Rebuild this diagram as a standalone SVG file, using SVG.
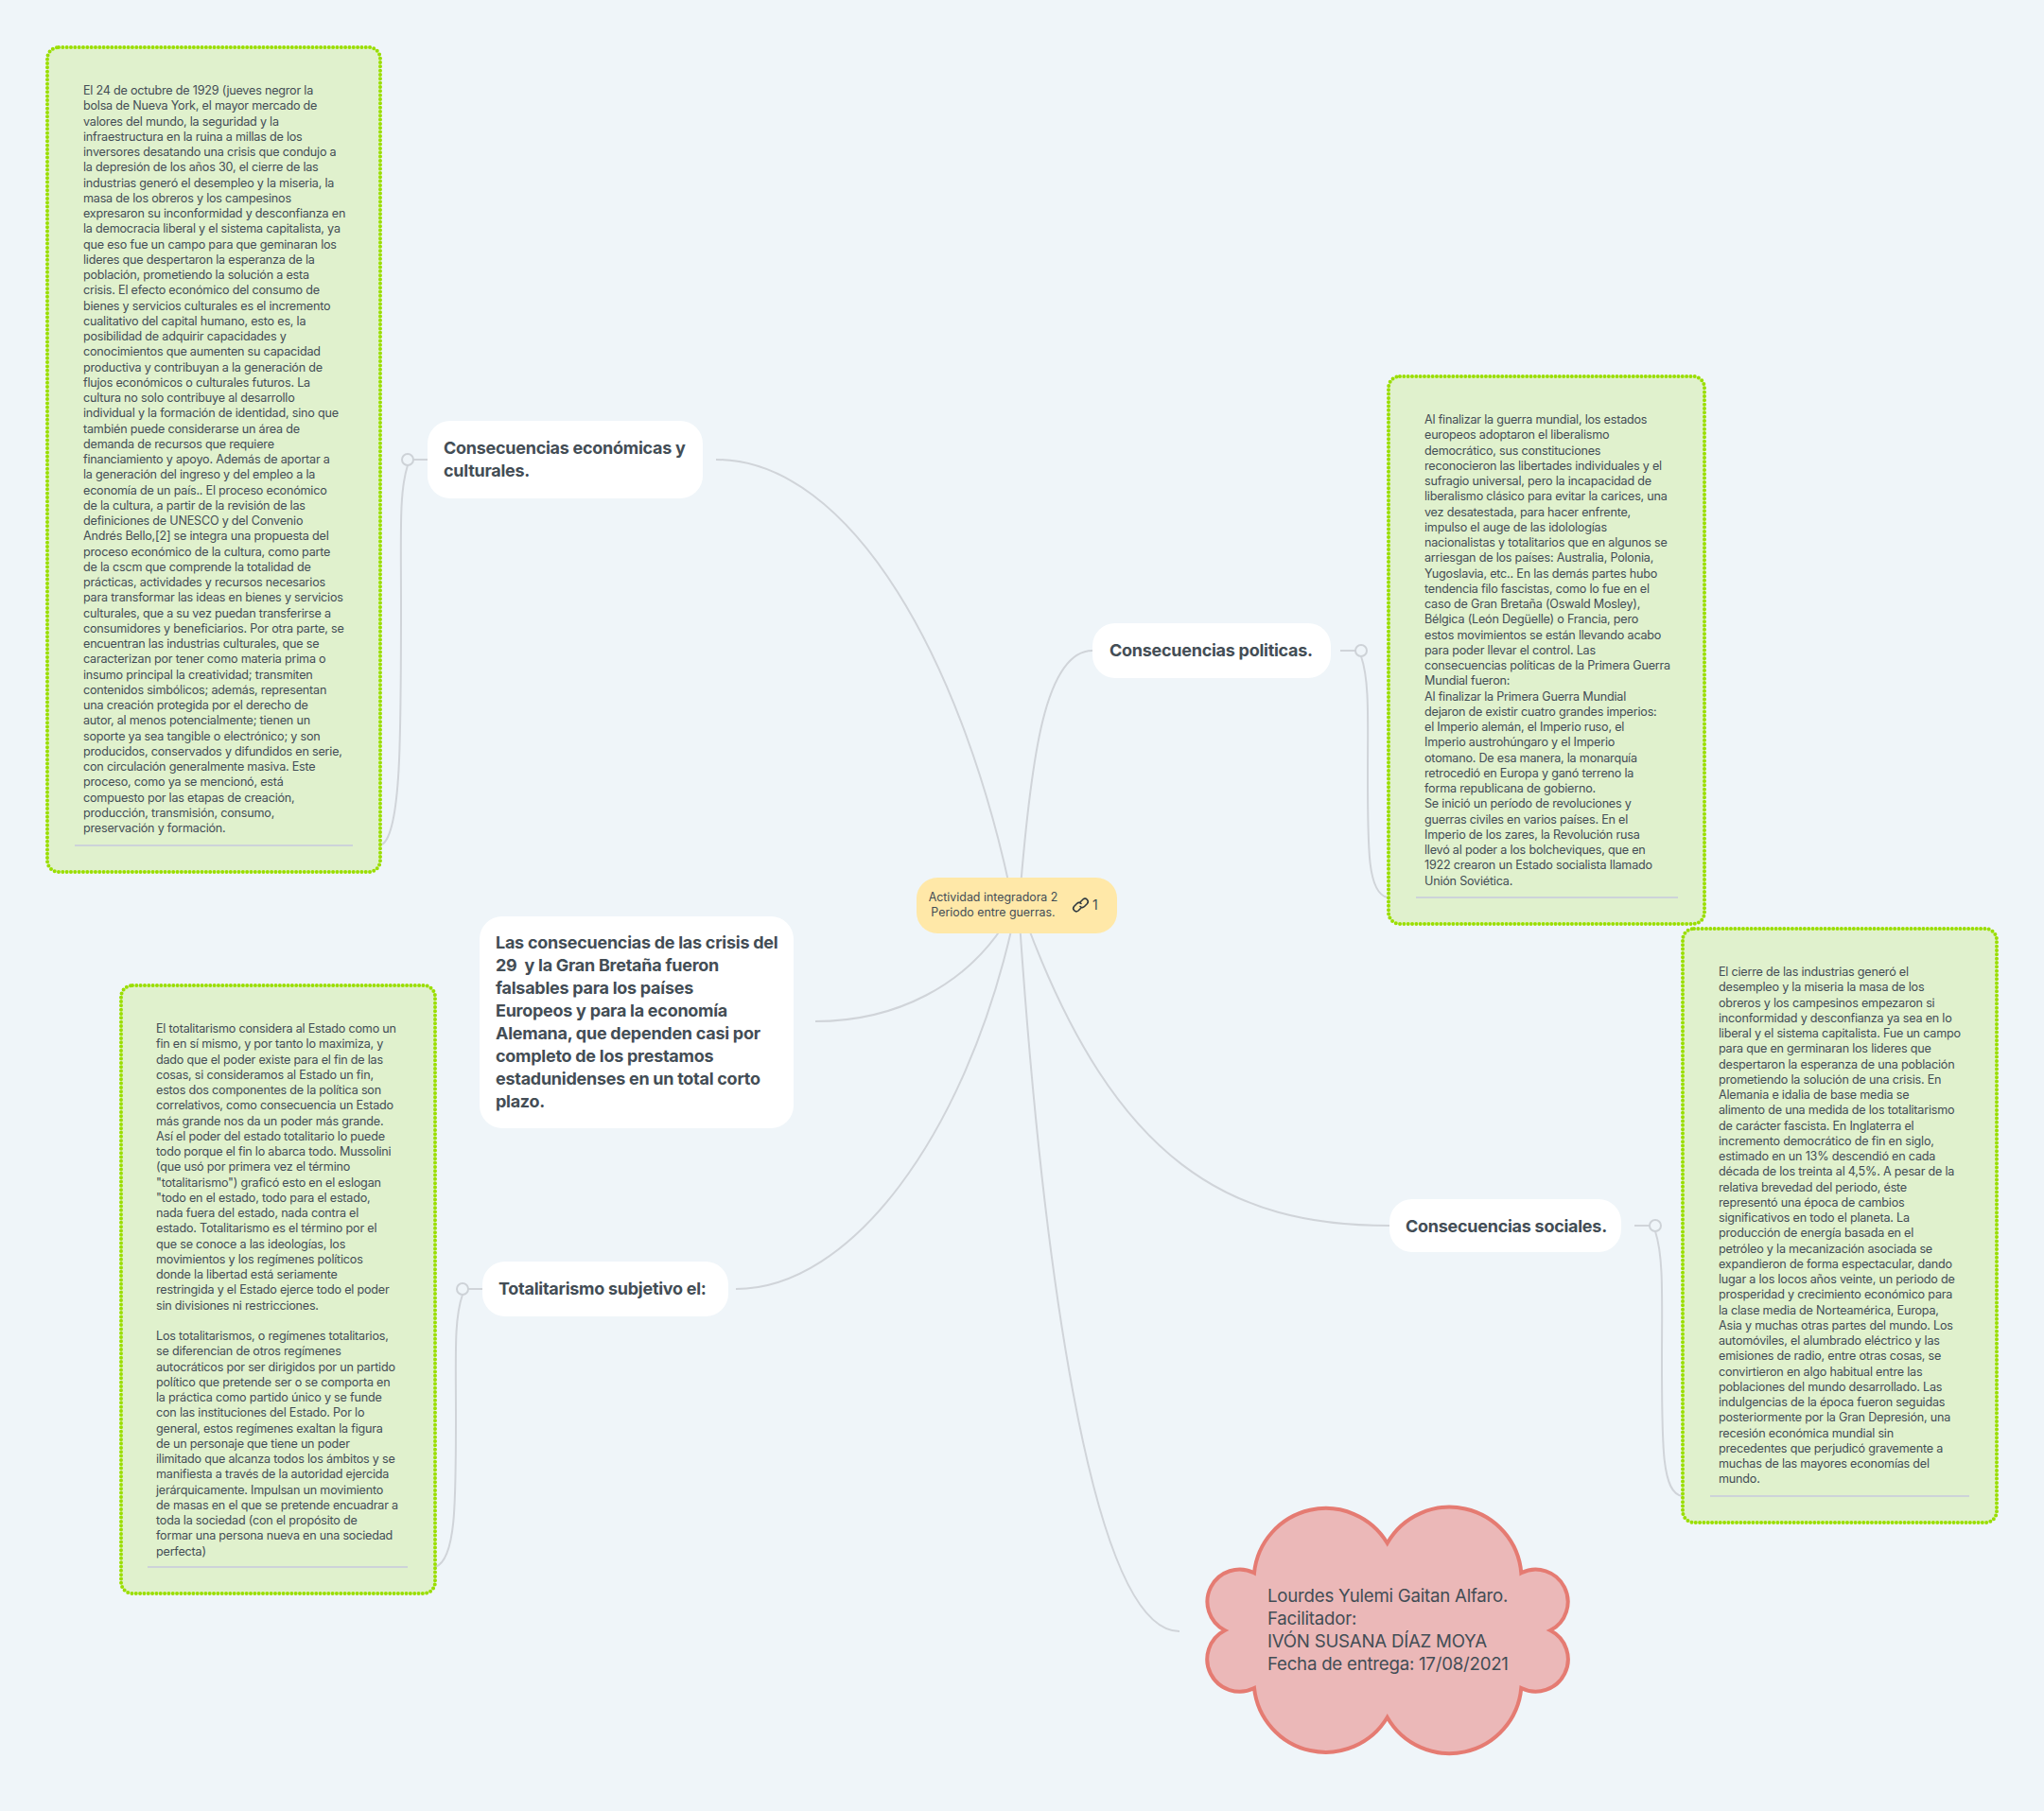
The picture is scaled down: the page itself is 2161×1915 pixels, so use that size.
<svg xmlns="http://www.w3.org/2000/svg" width="2161" height="1915" viewBox="0 0 2161 1915">
<style>
text{font-family:"Inter","Noto Sans","Liberation Sans",sans-serif;fill:#434d55}
.b{font-size:12.6px;letter-spacing:-.21px}
.t{font-size:18px;font-weight:700;letter-spacing:-.27px}
.box{fill:#e0f1cd;stroke:#9ade00;stroke-width:4;stroke-linecap:round;stroke-dasharray:0 4.33}
.sep{stroke:#cdd3d9;stroke-width:2;fill:none}
.con{stroke:#d0d4d9;stroke-width:2;fill:none}
.node{fill:#fff}
.h{fill:#eff5f9;stroke:#cdd2d7;stroke-width:2}
</style>
<rect width="2161" height="1915" fill="#eff5f9"/>
<g id="connectors">
<path class="con" d="M757 486C900 486 1020 700 1072 960"/>
<path class="con" d="M1155 688C1105 688 1090 800 1078 950"/>
<path class="con" d="M1469 1296C1300 1296 1180 1230 1085 975"/>
<path class="con" d="M862 1080C950 1080 1020 1040 1060 980"/>
<path class="con" d="M778 1363C900 1363 1020 1200 1070 980"/>
<path class="con" d="M1247 1725C1150 1725 1100 1300 1078 975"/>
<path class="con" d="M437 486H452M431 492C422 520 424 560 424 640C424 780 424 880 404 893"/>
<path class="con" d="M1417 688H1433M1439 694C1448 720 1446 760 1446 820C1446 900 1446 945 1467 949"/>
<path class="con" d="M1728 1296H1744M1750 1302C1759 1330 1757 1370 1757 1440C1757 1530 1757 1580 1779 1582"/>
<path class="con" d="M495 1363H510M489 1369C480 1395 482 1430 482 1500C482 1590 482 1650 460 1657"/>
</g>
<g id="root">
<rect x="969" y="928" width="212" height="59" rx="22" fill="#ffe8a8"/>
<text font-size="12.400" text-anchor="middle"><tspan x="1050" y="953">Actividad integradora 2</tspan><tspan x="1050" y="969">Periodo entre guerras.</tspan></text>
<g fill="none" stroke="#2f3940" stroke-width="1.6" stroke-linecap="round"><path d="M1142 954l3-3a3.2 3.2 0 0 1 4.500 4.500l-3 3a3.200 3.200 0 0 1-4.500 0"/><path d="M1143 960l-3 3a3.200 3.200 0 0 1-4.500-4.500l3-3a3.200 3.200 0 0 1 4.500 0"/></g>
<text x="1155" y="962" font-size="14">1</text>
</g>
<g id="econ">
<rect class="node" x="452" y="445" width="291" height="82" rx="24"/>
<circle class="h" cx="431" cy="486" r="6"/>
<text class="t"><tspan x="469" y="480">Consecuencias económicas y</tspan><tspan x="469" y="504">culturales.</tspan></text>
</g>
<g id="econ-note">
<rect class="box" x="50" y="50" width="352" height="872" rx="12"/>
<line class="sep" x1="79" y1="894" x2="373" y2="894"/>
<text class="b"><tspan x="88" y="100">El 24 de octubre de 1929 (jueves negror la</tspan><tspan x="88" dy="16.25">bolsa de Nueva York, el mayor mercado de</tspan><tspan x="88" dy="16.25">valores del mundo, la seguridad y la</tspan><tspan x="88" dy="16.25">infraestructura en la ruina a millas de los</tspan><tspan x="88" dy="16.25">inversores desatando una crisis que condujo a</tspan><tspan x="88" dy="16.25">la depresión de los años 30, el cierre de las</tspan><tspan x="88" dy="16.25">industrias generó el desempleo y la miseria, la</tspan><tspan x="88" dy="16.25">masa de los obreros y los campesinos</tspan><tspan x="88" dy="16.25">expresaron su inconformidad y desconfianza en</tspan><tspan x="88" dy="16.25">la democracia liberal y el sistema capitalista, ya</tspan><tspan x="88" dy="16.25">que eso fue un campo para que geminaran los</tspan><tspan x="88" dy="16.25">lideres que despertaron la esperanza de la</tspan><tspan x="88" dy="16.25">población, prometiendo la solución a esta</tspan><tspan x="88" dy="16.25">crisis. El efecto económico del consumo de</tspan><tspan x="88" dy="16.25">bienes y servicios culturales es el incremento</tspan><tspan x="88" dy="16.25">cualitativo del capital humano, esto es, la</tspan><tspan x="88" dy="16.25">posibilidad de adquirir capacidades y</tspan><tspan x="88" dy="16.25">conocimientos que aumenten su capacidad</tspan><tspan x="88" dy="16.25">productiva y contribuyan a la generación de</tspan><tspan x="88" dy="16.25">flujos económicos o culturales futuros. La</tspan><tspan x="88" dy="16.25">cultura no solo contribuye al desarrollo</tspan><tspan x="88" dy="16.25">individual y la formación de identidad, sino que</tspan><tspan x="88" dy="16.25">también puede considerarse un área de</tspan><tspan x="88" dy="16.25">demanda de recursos que requiere</tspan><tspan x="88" dy="16.25">financiamiento y apoyo. Además de aportar a</tspan><tspan x="88" dy="16.25">la generación del ingreso y del empleo a la</tspan><tspan x="88" dy="16.25">economía de un país.. El proceso económico</tspan><tspan x="88" dy="16.25">de la cultura, a partir de la revisión de las</tspan><tspan x="88" dy="16.25">definiciones de UNESCO y del Convenio</tspan><tspan x="88" dy="16.25">Andrés Bello,[2] se integra una propuesta del</tspan><tspan x="88" dy="16.25">proceso económico de la cultura, como parte</tspan><tspan x="88" dy="16.25">de la cscm que comprende la totalidad de</tspan><tspan x="88" dy="16.25">prácticas, actividades y recursos necesarios</tspan><tspan x="88" dy="16.25">para transformar las ideas en bienes y servicios</tspan><tspan x="88" dy="16.25">culturales, que a su vez puedan transferirse a</tspan><tspan x="88" dy="16.25">consumidores y beneficiarios. Por otra parte, se</tspan><tspan x="88" dy="16.25">encuentran las industrias culturales, que se</tspan><tspan x="88" dy="16.25">caracterizan por tener como materia prima o</tspan><tspan x="88" dy="16.25">insumo principal la creatividad; transmiten</tspan><tspan x="88" dy="16.25">contenidos simbólicos; además, representan</tspan><tspan x="88" dy="16.25">una creación protegida por el derecho de</tspan><tspan x="88" dy="16.25">autor, al menos potencialmente; tienen un</tspan><tspan x="88" dy="16.25">soporte ya sea tangible o electrónico; y son</tspan><tspan x="88" dy="16.25">producidos, conservados y difundidos en serie,</tspan><tspan x="88" dy="16.25">con circulación generalmente masiva. Este</tspan><tspan x="88" dy="16.25">proceso, como ya se mencionó, está</tspan><tspan x="88" dy="16.25">compuesto por las etapas de creación,</tspan><tspan x="88" dy="16.25">producción, transmisión, consumo,</tspan><tspan x="88" dy="16.25">preservación y formación.</tspan></text>
</g>
<g id="politicas">
<rect class="node" x="1155" y="659" width="252" height="58" rx="24"/>
<circle class="h" cx="1439" cy="688" r="6"/>
<text class="t" x="1173" y="694">Consecuencias politicas.</text>
</g>
<g id="politicas-note">
<rect class="box" x="1468" y="398" width="334" height="579" rx="12"/>
<line class="sep" x1="1497" y1="949" x2="1774" y2="949"/>
<text class="b"><tspan x="1506" y="448">Al finalizar la guerra mundial, los estados</tspan><tspan x="1506" dy="16.25">europeos adoptaron el liberalismo</tspan><tspan x="1506" dy="16.25">democrático, sus constituciones</tspan><tspan x="1506" dy="16.25">reconocieron las libertades individuales y el</tspan><tspan x="1506" dy="16.25">sufragio universal, pero la incapacidad de</tspan><tspan x="1506" dy="16.25">liberalismo clásico para evitar la carices, una</tspan><tspan x="1506" dy="16.25">vez desatestada, para hacer enfrente,</tspan><tspan x="1506" dy="16.25">impulso el auge de las idolologías</tspan><tspan x="1506" dy="16.25">nacionalistas y totalitarios que en algunos se</tspan><tspan x="1506" dy="16.25">arriesgan de los países: Australia, Polonia,</tspan><tspan x="1506" dy="16.25">Yugoslavia, etc.. En las demás partes hubo</tspan><tspan x="1506" dy="16.25">tendencia filo fascistas, como lo fue en el</tspan><tspan x="1506" dy="16.25">caso de Gran Bretaña (Oswald Mosley),</tspan><tspan x="1506" dy="16.25">Bélgica (León Degüelle) o Francia, pero</tspan><tspan x="1506" dy="16.25">estos movimientos se están llevando acabo</tspan><tspan x="1506" dy="16.25">para poder llevar el control. Las</tspan><tspan x="1506" dy="16.25">consecuencias políticas de la Primera Guerra</tspan><tspan x="1506" dy="16.25">Mundial fueron:</tspan><tspan x="1506" dy="16.25">Al finalizar la Primera Guerra Mundial</tspan><tspan x="1506" dy="16.25">dejaron de existir cuatro grandes imperios:</tspan><tspan x="1506" dy="16.25">el Imperio alemán, el Imperio ruso, el</tspan><tspan x="1506" dy="16.25">Imperio austrohúngaro y el Imperio</tspan><tspan x="1506" dy="16.25">otomano. De esa manera, la monarquía</tspan><tspan x="1506" dy="16.25">retrocedió en Europa y ganó terreno la</tspan><tspan x="1506" dy="16.25">forma republicana de gobierno.</tspan><tspan x="1506" dy="16.25">Se inició un período de revoluciones y</tspan><tspan x="1506" dy="16.25">guerras civiles en varios países. En el</tspan><tspan x="1506" dy="16.25">Imperio de los zares, la Revolución rusa</tspan><tspan x="1506" dy="16.25">llevó al poder a los bolcheviques, que en</tspan><tspan x="1506" dy="16.25">1922 crearon un Estado socialista llamado</tspan><tspan x="1506" dy="16.25">Unión Soviética.</tspan></text>
</g>
<g id="sociales">
<rect class="node" x="1469" y="1268" width="245" height="56" rx="24"/>
<circle class="h" cx="1750" cy="1296" r="6"/>
<text class="t" x="1486" y="1303">Consecuencias sociales.</text>
</g>
<g id="sociales-note">
<rect class="box" x="1779" y="982" width="332" height="628" rx="12"/>
<line class="sep" x1="1808" y1="1582" x2="2082" y2="1582"/>
<text class="b"><tspan x="1817" y="1032">El cierre de las industrias generó el</tspan><tspan x="1817" dy="16.25">desempleo y la miseria la masa de los</tspan><tspan x="1817" dy="16.25">obreros y los campesinos empezaron si</tspan><tspan x="1817" dy="16.25">inconformidad y desconfianza ya sea en lo</tspan><tspan x="1817" dy="16.25">liberal y el sistema capitalista. Fue un campo</tspan><tspan x="1817" dy="16.25">para que en germinaran los lideres que</tspan><tspan x="1817" dy="16.25">despertaron la esperanza de una población</tspan><tspan x="1817" dy="16.25">prometiendo la solución de una crisis. En</tspan><tspan x="1817" dy="16.25">Alemania e idalia de base media se</tspan><tspan x="1817" dy="16.25">alimento de una medida de los totalitarismo</tspan><tspan x="1817" dy="16.25">de carácter fascista. En Inglaterra el</tspan><tspan x="1817" dy="16.25">incremento democrático de fin en siglo,</tspan><tspan x="1817" dy="16.25">estimado en un 13% descendió en cada</tspan><tspan x="1817" dy="16.25">década de los treinta al 4,5%. A pesar de la</tspan><tspan x="1817" dy="16.25">relativa brevedad del periodo, éste</tspan><tspan x="1817" dy="16.25">representó una época de cambios</tspan><tspan x="1817" dy="16.25">significativos en todo el planeta. La</tspan><tspan x="1817" dy="16.25">producción de energía basada en el</tspan><tspan x="1817" dy="16.25">petróleo y la mecanización asociada se</tspan><tspan x="1817" dy="16.25">expandieron de forma espectacular, dando</tspan><tspan x="1817" dy="16.25">lugar a los locos años veinte, un periodo de</tspan><tspan x="1817" dy="16.25">prosperidad y crecimiento económico para</tspan><tspan x="1817" dy="16.25">la clase media de Norteamérica, Europa,</tspan><tspan x="1817" dy="16.25">Asia y muchas otras partes del mundo. Los</tspan><tspan x="1817" dy="16.25">automóviles, el alumbrado eléctrico y las</tspan><tspan x="1817" dy="16.25">emisiones de radio, entre otras cosas, se</tspan><tspan x="1817" dy="16.25">convirtieron en algo habitual entre las</tspan><tspan x="1817" dy="16.25">poblaciones del mundo desarrollado. Las</tspan><tspan x="1817" dy="16.25">indulgencias de la época fueron seguidas</tspan><tspan x="1817" dy="16.25">posteriormente por la Gran Depresión, una</tspan><tspan x="1817" dy="16.25">recesión económica mundial sin</tspan><tspan x="1817" dy="16.25">precedentes que perjudicó gravemente a</tspan><tspan x="1817" dy="16.25">muchas de las mayores economías del</tspan><tspan x="1817" dy="16.25">mundo.</tspan></text>
</g>
<g id="crisis">
<rect class="node" x="507" y="969" width="332" height="224" rx="24"/>
<text class="t"><tspan x="524" y="1003">Las consecuencias de las crisis del</tspan><tspan x="524" y="1027" xml:space="preserve">29  y la Gran Bretaña fueron</tspan><tspan x="524" y="1051">falsables para los países</tspan><tspan x="524" y="1075">Europeos y para la economía</tspan><tspan x="524" y="1099">Alemana, que dependen casi por</tspan><tspan x="524" y="1123">completo de los prestamos</tspan><tspan x="524" y="1147">estadunidenses en un total corto</tspan><tspan x="524" y="1171">plazo.</tspan></text>
</g>
<g id="totalitarismo">
<rect class="node" x="510" y="1334" width="260" height="58" rx="24"/>
<circle class="h" cx="489" cy="1363" r="6"/>
<text class="t" x="527" y="1369">Totalitarismo subjetivo el:</text>
</g>
<g id="totalitarismo-note">
<rect class="box" x="128" y="1042" width="332" height="643" rx="12"/>
<line class="sep" x1="156" y1="1657" x2="431" y2="1657"/>
<text class="b"><tspan x="165" y="1092">El totalitarismo considera al Estado como un</tspan><tspan x="165" dy="16.25">fin en sí mismo, y por tanto lo maximiza, y</tspan><tspan x="165" dy="16.25">dado que el poder existe para el fin de las</tspan><tspan x="165" dy="16.25">cosas, si consideramos al Estado un fin,</tspan><tspan x="165" dy="16.25">estos dos componentes de la política son</tspan><tspan x="165" dy="16.25">correlativos, como consecuencia un Estado</tspan><tspan x="165" dy="16.25">más grande nos da un poder más grande.</tspan><tspan x="165" dy="16.25">Así el poder del estado totalitario lo puede</tspan><tspan x="165" dy="16.25">todo porque el fin lo abarca todo. Mussolini</tspan><tspan x="165" dy="16.25">(que usó por primera vez el término</tspan><tspan x="165" dy="16.25">"totalitarismo") graficó esto en el eslogan</tspan><tspan x="165" dy="16.25">"todo en el estado, todo para el estado,</tspan><tspan x="165" dy="16.25">nada fuera del estado, nada contra el</tspan><tspan x="165" dy="16.25">estado. Totalitarismo es el término por el</tspan><tspan x="165" dy="16.25">que se conoce a las ideologías, los</tspan><tspan x="165" dy="16.25">movimientos y los regímenes políticos</tspan><tspan x="165" dy="16.25">donde la libertad está seriamente</tspan><tspan x="165" dy="16.25">restringida y el Estado ejerce todo el poder</tspan><tspan x="165" dy="16.25">sin divisiones ni restricciones.</tspan><tspan x="165" dy="32.5">Los totalitarismos, o regímenes totalitarios,</tspan><tspan x="165" dy="16.25">se diferencian de otros regímenes</tspan><tspan x="165" dy="16.25">autocráticos por ser dirigidos por un partido</tspan><tspan x="165" dy="16.25">político que pretende ser o se comporta en</tspan><tspan x="165" dy="16.25">la práctica como partido único y se funde</tspan><tspan x="165" dy="16.25">con las instituciones del Estado. Por lo</tspan><tspan x="165" dy="16.25">general, estos regímenes exaltan la figura</tspan><tspan x="165" dy="16.25">de un personaje que tiene un poder</tspan><tspan x="165" dy="16.25">ilimitado que alcanza todos los ámbitos y se</tspan><tspan x="165" dy="16.25">manifiesta a través de la autoridad ejercida</tspan><tspan x="165" dy="16.25">jerárquicamente. Impulsan un movimiento</tspan><tspan x="165" dy="16.25">de masas en el que se pretende encuadrar a</tspan><tspan x="165" dy="16.25">toda la sociedad (con el propósito de</tspan><tspan x="165" dy="16.25">formar una persona nueva en una sociedad</tspan><tspan x="165" dy="16.25">perfecta)</tspan></text>
</g>
<g id="cloud">
<path d="M1466.700 1631.700A76 76 0 0 1 1608.300 1663.300A34 34 0 0 1 1639 1724A34 34 0 0 1 1608.300 1785A76 76 0 0 1 1466.700 1816A76 76 0 0 1 1326 1785A34 34 0 0 1 1295 1724A34 34 0 0 1 1326 1663.300A76 76 0 0 1 1466.700 1631.700Z" fill="#ebb8b8" stroke="#e57b72" stroke-width="4"/>
<text font-size="18.700" letter-spacing="-.25"><tspan x="1340" y="1694">Lourdes Yulemi Gaitan Alfaro.</tspan><tspan x="1340" y="1718">Facilitador:</tspan><tspan x="1340" y="1742">IVÓN SUSANA DÍAZ MOYA</tspan><tspan x="1340" y="1766">Fecha de entrega: 17/08/2021</tspan></text>
</g>
</svg>
